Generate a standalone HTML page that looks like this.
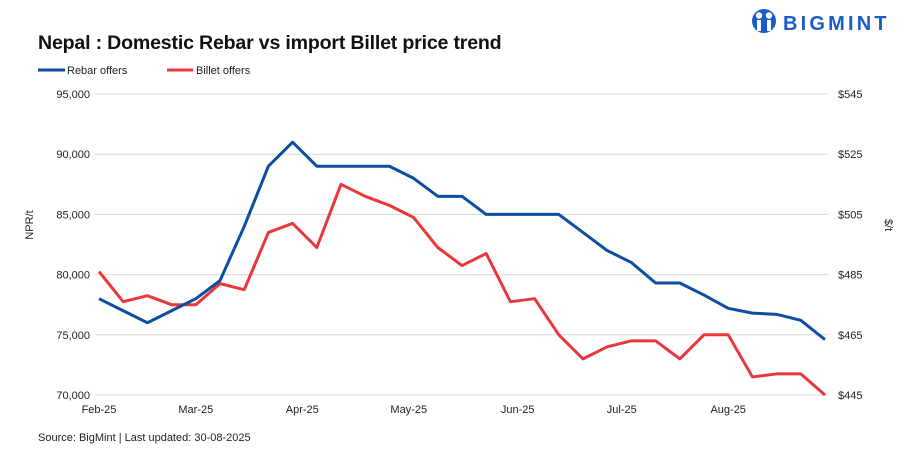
<!DOCTYPE html>
<html><head><meta charset="utf-8"><style>
body{margin:0;background:#fff;width:907px;height:454px;overflow:hidden;font-family:"Liberation Sans",sans-serif;}
svg text{font-family:"Liberation Sans",sans-serif;}
</style></head><body>
<svg id="chart" width="907" height="454">
<text x="38" y="49" font-size="19.6" font-weight="bold" fill="#111" letter-spacing="-0.2">Nepal : Domestic Rebar vs import Billet price trend</text>
<g>
<circle cx="764" cy="21" r="12" fill="#1a5cc8"/>
<circle cx="759" cy="15.5" r="3.2" fill="#fff"/><circle cx="769" cy="15.5" r="3.2" fill="#fff"/>
<rect x="757" y="20" width="4" height="11" fill="#fff"/><rect x="767" y="20" width="4" height="11" fill="#fff"/>
<text x="783" y="30" font-size="20" font-weight="bold" fill="#1a5cc8" letter-spacing="3.2">BIGMINT</text>
</g>
<g>
<line x1="38" y1="70" x2="65" y2="70" stroke="#0b4ea2" stroke-width="3"/>
<text x="67" y="74" font-size="11" fill="#222">Rebar offers</text>
<line x1="167" y1="70" x2="193" y2="70" stroke="#e8383b" stroke-width="3"/>
<text x="196" y="74" font-size="11" fill="#222">Billet offers</text>
</g>
<g id="grid"></g><g id="axes"></g><g id="series"></g>
<text x="0" y="0" font-size="11" fill="#222" transform="translate(33,225) rotate(-90)" text-anchor="middle">NPR/t</text>
<text x="0" y="0" font-size="11" fill="#222" transform="translate(885,225) rotate(90)" text-anchor="middle">$/t</text>
<text x="38" y="441" font-size="11" fill="#222">Source: BigMint | Last updated: 30-08-2025</text>
</svg>
<script>
const leftTicks=[70000,75000,80000,85000,90000,95000];
const rightTicks=[445,465,485,505,525,545];
const months=["Feb-25","Mar-25","Apr-25","May-25","Jun-25","Jul-25","Aug-25"];
const monthIdx=[0,4,8.4,12.8,17.3,21.6,26];
const rebar=[78000,77000,76000,77000,78000,79500,84000,89000,91000,89000,89000,89000,89000,88000,86500,86500,85000,85000,85000,85000,83500,82000,81000,79300,79300,78300,77200,76800,76700,76200,74600];
const billet=[486,476,478,475,475,482,480,499,502,494,515,511,508,504,494,488,492,476,477,465,457,461,463,463,457,465,465,451,452,452,445];
const NS="http://www.w3.org/2000/svg";
const x0=99,x1=825,yTop=94,yBot=395;
const xs=i=>x0+i*(x1-x0)/(rebar.length-1);
const yL=v=>yBot-(v-70000)/25000*(yBot-yTop);
const yR=v=>yBot-(v-445)/100*(yBot-yTop);
function mk(t,a,p){const e=document.createElementNS(NS,t);for(const k in a)e.setAttribute(k,a[k]);p.appendChild(e);return e;}
const g=document.getElementById('grid'),ax=document.getElementById('axes'),s=document.getElementById('series');
leftTicks.forEach((v,i)=>{
 const y=yL(v);
 const l=mk('line',{x1:95,x2:828,y1:y,y2:y,stroke:'#d9d9d9','stroke-width':1},g);
 
 
 const t=mk('text',{x:90,y:y+4,'font-size':11,fill:'#222','text-anchor':'end'},ax);
 t.textContent=v.toLocaleString('en-US');
 
 
 const r=mk('text',{x:838,y:yR(rightTicks[i])+4,'font-size':11,fill:'#222'},ax);
 r.textContent='$'+rightTicks[i];
 
 
});
months.forEach((m,i)=>{
 const t=mk('text',{x:xs(monthIdx[i]),y:413,'font-size':11,fill:'#222','text-anchor':'middle'},ax);
 t.textContent=m;
 
 
});
const pb=mk('polyline',{points:billet.map((v,i)=>xs(i)+','+yR(v)).join(' '),fill:'none',stroke:'#e8383b','stroke-width':3,'stroke-linejoin':'round'},s);


const pr=mk('polyline',{points:rebar.map((v,i)=>xs(i)+','+yL(v)).join(' '),fill:'none',stroke:'#0b4ea2','stroke-width':3,'stroke-linejoin':'round'},s);


</script>
</body></html>
